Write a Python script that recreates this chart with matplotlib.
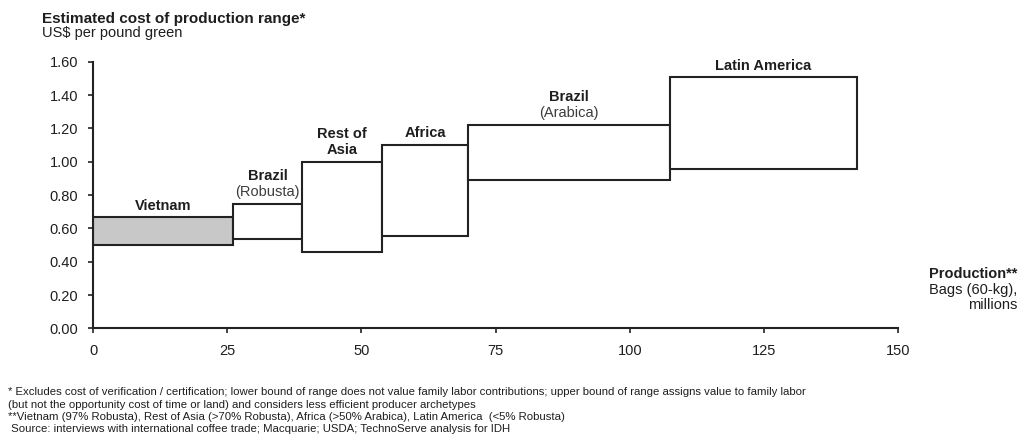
import matplotlib.pyplot as plt
import matplotlib.patches as mpatches
from matplotlib import font_manager as fm

# pick the regular-width Liberation Sans files (avoid the Narrow variant)
reg_path = None
bold_path = None
for f in fm.fontManager.ttflist:
    fn = f.fname.lower()
    if 'liberationsans' in fn.replace('-', '').replace('_', '') and 'narrow' not in fn:
        if f.style == 'normal' and f.weight in (400, 'normal', 'regular'):
            reg_path = f.fname
        if f.style == 'normal' and f.weight in (700, 'bold'):
            bold_path = f.fname
if reg_path:
    FP = fm.FontProperties(fname=reg_path)
else:
    FP = fm.FontProperties(family='DejaVu Sans')
if bold_path:
    FPB = fm.FontProperties(fname=bold_path)
else:
    FPB = fm.FontProperties(family='DejaVu Sans', weight='bold')


def fp(size, bold=False):
    p = (FPB if bold else FP).copy()
    p.set_size(size)
    return p


# production (millions of 60-kg bags) and cost range (US$/lb green)
regions = ['Vietnam', 'Brazil', 'Rest of', 'Africa', 'Brazil', 'Latin America']
sublabels = ['', '(Robusta)', 'Asia', '', '(Arabica)', '']
production = [26.0, 13.0, 14.8, 16.1, 37.5, 34.9]
cost_low = [0.50, 0.536, 0.456, 0.554, 0.891, 0.955]
cost_high = [0.667, 0.747, 1.00, 1.10, 1.221, 1.508]
fills = ['#c8c8c8', 'white', 'white', 'white', 'white', 'white']

xticks = [0, 25, 50, 75, 100, 125, 150]
yticks = [0.0, 0.2, 0.4, 0.6, 0.8, 1.0, 1.2, 1.4, 1.6]

footnotes = [
    '* Excludes cost of verification / certification; lower bound of range does not value family labor contributions; upper bound of range assigns value to family labor',
    '(but not the opportunity cost of time or land) and considers less efficient producer archetypes',
    '**Vietnam (97% Robusta), Rest of Asia (>70% Robusta), Africa (>50% Arabica), Latin America  (<5% Robusta)',
    ' Source: interviews with international coffee trade; Macquarie; USDA; TechnoServe analysis for IDH',
]

TXT = '#1e1e1e'
fig = plt.figure(figsize=(10.29, 4.45), dpi=100)
ax = fig.add_axes([0.0904, 0.262, 0.7826, 0.599])

left = 0.0
for i in range(len(regions)):
    w = production[i]
    rect = mpatches.Rectangle((left, cost_low[i]), w, cost_high[i] - cost_low[i],
                              facecolor=fills[i], edgecolor='#222222', linewidth=1.5)
    ax.add_patch(rect)
    xc = left + w / 2
    if sublabels[i]:
        bold_sub = sublabels[i] == 'Asia'
        ax.annotate(sublabels[i], (xc, cost_high[i]), xytext=(0, 8.4), textcoords='offset points',
                    ha='center', va='center', fontproperties=fp(10.5, bold_sub),
                    color=TXT if bold_sub else '#3c3c3c')
        ax.annotate(regions[i], (xc, cost_high[i]), xytext=(0, 20), textcoords='offset points',
                    ha='center', va='center', fontproperties=fp(10.5, True), color=TXT)
    else:
        ax.annotate(regions[i], (xc, cost_high[i]), xytext=(0, 8.4), textcoords='offset points',
                    ha='center', va='center', fontproperties=fp(10.5, True), color=TXT)
    left += w

ax.set_xlim(0, 150)
ax.set_ylim(0, 1.6)
ax.set_xticks(xticks)
ax.set_xticklabels([str(t) for t in xticks], fontproperties=fp(10.5))
ax.set_yticks(yticks)
ax.set_yticklabels(['%.2f' % t for t in yticks], fontproperties=fp(10.5))
ax.spines['top'].set_visible(False)
ax.spines['right'].set_visible(False)
for s in ['left', 'bottom']:
    ax.spines[s].set_linewidth(1.5)
    ax.spines[s].set_color('#222222')
ax.tick_params(axis='both', direction='out', length=3.5, width=1.2, colors='#222222',
               labelcolor=TXT)
ax.tick_params(axis='x', pad=8)
ax.tick_params(axis='y', pad=7)
ax.patch.set_visible(False)

fig.text(0.041, 0.957, 'Estimated cost of production range*', fontproperties=fp(11, True),
         color=TXT, va='center')
fig.text(0.041, 0.925, 'US$ per pound green', fontproperties=fp(10.5), color=TXT, va='center')

fig.text(0.989, 0.384, 'Production**', fontproperties=fp(10.5, True), color=TXT,
         ha='right', va='center')
fig.text(0.989, 0.349, 'Bags (60-kg),', fontproperties=fp(10.5), color=TXT, ha='right', va='center')
fig.text(0.989, 0.315, 'millions', fontproperties=fp(10.5), color=TXT, ha='right', va='center')

ys = [0.118, 0.091, 0.064, 0.037]
for t, yy in zip(footnotes, ys):
    fig.text(0.008, yy, t, fontproperties=fp(8.2), color=TXT, va='center')

fig.savefig('out.png', dpi=100)
